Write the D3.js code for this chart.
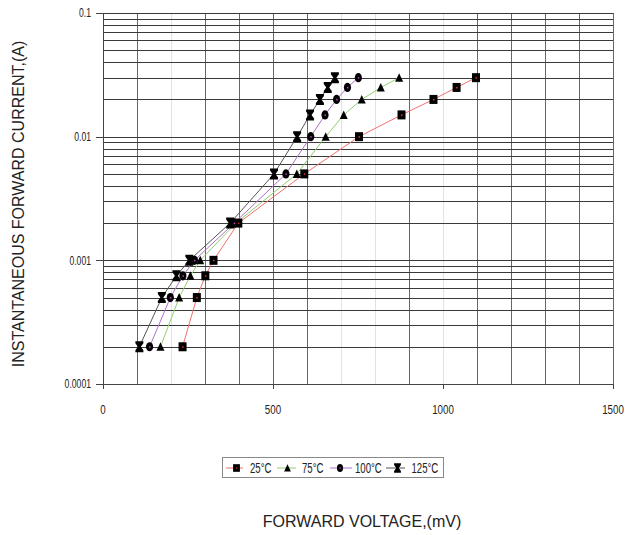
<!DOCTYPE html>
<html>
<head>
<meta charset="utf-8">
<script src="https://cdn.jsdelivr.net/npm/d3@7"></script>
<style>
  body { margin: 0; background: #fff; }
  svg { display: block; }
  .tick-label { font-family: "Liberation Sans", Arial, sans-serif; font-size: 13px; fill: #222; }
  .title { font-family: "Liberation Sans", Arial, sans-serif; font-size: 16px; fill: #222; }
</style>
</head>
<body>
<svg width="628" height="535"></svg>
<script>
// forward current levels (A) and voltages (mV) per temperature
var currents = [0.0002, 0.0005, 0.00075, 0.001, 0.002, 0.005, 0.01, 0.015, 0.02, 0.025, 0.03];
var v25  = [234, 276, 301, 325, 398, 592, 753, 878, 972, 1040, 1097];
var v75  = [169, 224, 257, 286, 391, 570, 655, 708, 761, 817, 871];
var v100 = [137, 198, 235, 269, 386, 538, 611, 653, 687, 719, 751];
var v125 = [107, 173, 216, 254, 374, 503, 571, 609, 638, 661, 682];
var seriesNames = ["25", "75", "100", "125"];
var xTicks = [0, 500, 1000, 1500];
var yTicks = [0.0001, 0.001, 0.01, 0.1];
var yTickLabels = ["0.0001", "0.001", "0.01", "0.1"];

var svg = d3.select("svg"),
    pLeft = 103, pRight = 613, pTop = 13, pBottom = 384;

var x = d3.scaleLinear().domain([0, 1500]).range([pLeft, pRight]);
var y = d3.scaleLog().domain([0.0001, 0.1]).range([pBottom, pTop]);

var series = [
  {name: seriesNames[0], v: v25,  color: "#f07070", shape: "square"},
  {name: seriesNames[1], v: v75,  color: "#8fd070", shape: "triangle"},
  {name: seriesNames[2], v: v100, color: "#b070c8", shape: "circle"},
  {name: seriesNames[3], v: v125, color: "#555555", shape: "hourglass"}
];

// narrow text: the original uses a condensed face
function narrowText(g, tx, ty, str, anchor, size, sx) {
  return g.append("text").attr("class", "tick-label")
    .attr("transform", "translate(" + tx + "," + ty + ") scale(" + sx + ",1)")
    .attr("text-anchor", anchor)
    .attr("dy", "0.35em")
    .style("font-size", size + "px")
    .text(str);
}

// vertical grid every 100 mV, some rendered faint like the original
var faint = [200, 700, 800, 1000];
svg.append("g").selectAll("line")
  .data(d3.range(100, 1501, 100))
  .enter().append("line")
    .attr("x1", function(d) { return Math.round(x(d)) + 0.5; })
    .attr("x2", function(d) { return Math.round(x(d)) + 0.5; })
    .attr("y1", pTop).attr("y2", pBottom)
    .attr("stroke", function(d) { return faint.indexOf(d) >= 0 ? "#e2e2e2" : "#666"; })
    .attr("stroke-width", 1);

// horizontal grid, log minor lines
var hlines = [];
[0.0001, 0.001, 0.01].forEach(function(dec) {
  for (var k = 2; k <= 10; k++) hlines.push(dec * k);
});
svg.append("g").selectAll("line")
  .data(hlines)
  .enter().append("line")
    .attr("x1", pLeft).attr("x2", pRight)
    .attr("y1", function(d) { return Math.round(y(d)) + 0.5; })
    .attr("y2", function(d) { return Math.round(y(d)) + 0.5; })
    .attr("stroke", "#3a3a3a")
    .attr("stroke-width", 1);

// axes
svg.append("line").attr("x1", pLeft + 0.5).attr("x2", pLeft + 0.5).attr("y1", pTop).attr("y2", pBottom)
  .attr("stroke", "#444");
svg.append("line").attr("x1", pLeft).attr("x2", pRight).attr("y1", pBottom + 0.5).attr("y2", pBottom + 0.5)
  .attr("stroke", "#444");

svg.append("g").selectAll("line").data(yTicks).enter().append("line")
  .attr("x1", pLeft - 7).attr("x2", pLeft)
  .attr("y1", function(d) { return Math.round(y(d)) + 0.5; })
  .attr("y2", function(d) { return Math.round(y(d)) + 0.5; })
  .attr("stroke", "#444");
var yLab = svg.append("g");
yTicks.forEach(function(d, i) {
  narrowText(yLab, pLeft - 12, y(d), yTickLabels[i], "end", 12, 0.72);
});

svg.append("g").selectAll("line").data(xTicks).enter().append("line")
  .attr("x1", function(d) { return Math.round(x(d)) + 0.5; })
  .attr("x2", function(d) { return Math.round(x(d)) + 0.5; })
  .attr("y1", pBottom).attr("y2", pBottom + 5)
  .attr("stroke", "#444");
var xLab = svg.append("g");
xTicks.forEach(function(d) {
  narrowText(xLab, x(d), pBottom + 25, String(d), "middle", 13, 0.75);
});

// titles
svg.append("text").attr("class", "title")
  .attr("transform", "translate(24,204) rotate(-90)")
  .attr("text-anchor", "middle")
  .text("INSTANTANEOUS FORWARD CURRENT,(A)");
svg.append("text").attr("class", "title")
  .attr("x", 362).attr("y", 527)
  .attr("text-anchor", "middle")
  .text("FORWARD VOLTAGE,(mV)");

// marker drawing
function drawMarker(sel, shape) {
  if (shape === "square") {
    sel.append("rect").attr("x", -4).attr("y", -4.5).attr("width", 8).attr("height", 9).attr("fill", "#000");
    sel.append("rect").attr("x", -0.5).attr("y", -0.5).attr("width", 1.5).attr("height", 1.5).attr("fill", "#f03030");
  } else if (shape === "triangle") {
    sel.append("path").attr("d", "M0,-4.5L4,4L-4,4Z").attr("fill", "#000");
  } else if (shape === "circle") {
    sel.append("ellipse").attr("rx", 3.6).attr("ry", 4.6).attr("fill", "#000");
    sel.append("rect").attr("x", -0.5).attr("y", -0.5).attr("width", 1.5).attr("height", 1.5).attr("fill", "#c040c0");
  } else {
    sel.append("path").attr("d", "M-4,-5.5L4,-5.5L4,-3.5L1.5,0L4,3.5L4,5.5L-4,5.5L-4,3.5L-1.5,0L-4,-3.5Z").attr("fill", "#000");
  }
}

var line = d3.line()
  .x(function(d) { return x(d[0]); })
  .y(function(d) { return y(d[1]); });

series.forEach(function(s) {
  var pts = s.v.map(function(v, i) { return [v, currents[i]]; });
  svg.append("path")
    .datum(pts)
    .attr("d", line)
    .attr("fill", "none")
    .attr("stroke", s.color)
    .attr("stroke-width", 1);
});
series.forEach(function(s) {
  var pts = s.v.map(function(v, i) { return [v, currents[i]]; });
  svg.append("g").selectAll("g").data(pts).enter().append("g")
    .attr("transform", function(d) { return "translate(" + x(d[0]) + "," + y(d[1]) + ")"; })
    .each(function() { drawMarker(d3.select(this), s.shape); });
});

// legend
var legend = svg.append("g").attr("transform", "translate(222,457)");
legend.append("rect").attr("x", 0.5).attr("y", 0.5).attr("width", 221).attr("height", 20)
  .attr("fill", "#fff").attr("stroke", "#888");
var legLine = [[4, 21], [55, 74], [108, 130], [164, 183]];
var legMark = [14.5, 65.5, 118, 175.5];
var legText = [28, 80, 133, 189.5];
series.forEach(function(s, i) {
  var g = legend.append("g").attr("transform", "translate(0,11)");
  g.append("line").attr("x1", legLine[i][0]).attr("x2", legLine[i][1]).attr("y1", 0).attr("y2", 0).attr("stroke", s.color);
  var m = g.append("g").attr("transform", "translate(" + legMark[i] + ",0) scale(0.85)");
  drawMarker(m, s.shape);
  narrowText(g, legText[i], 0, s.name + "°C", "start", 15, 0.64);
});
</script>
</body>
</html>
